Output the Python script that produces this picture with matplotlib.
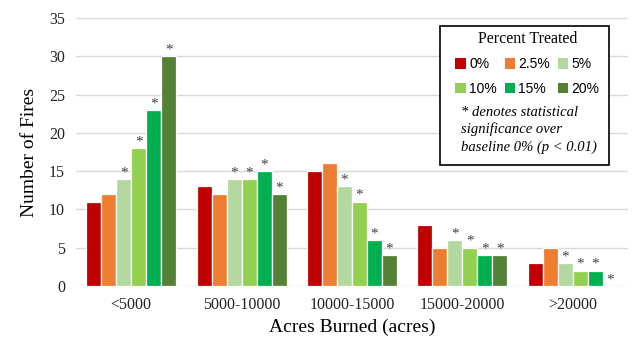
"""Number of fires by acres burned, grouped by percent of landscape treated."""

import matplotlib

matplotlib.use("Agg")
import matplotlib.pyplot as plt
import numpy as np
from matplotlib.patches import Patch, Rectangle

categories = ["<5000", "5000-10000", "10000-15000", "15000-20000", ">20000"]
treatments = ["0%", "2.5%", "5%", "10%", "15%", "20%"]
colors = ["#C00000", "#ED7D31", "#B4D9A0", "#92D050", "#00B050", "#548235"]

# fires per treatment level, one list per acres-burned class
fires = {
    "0%": [11, 13, 15, 8, 3],
    "2.5%": [12, 12, 16, 5, 5],
    "5%": [14, 14, 13, 6, 3],
    "10%": [18, 14, 11, 5, 2],
    "15%": [23, 15, 6, 4, 2],
    "20%": [30, 12, 4, 4, 0],
}
# significant vs. 0% baseline (p < 0.01)
significant = {
    "0%": [False] * 5,
    "2.5%": [False] * 5,
    "5%": [True] * 5,
    "10%": [True] * 5,
    "15%": [True] * 5,
    "20%": [True] * 5,
}

SERIF = "Liberation Serif"
SANS = "Liberation Sans"

fig = plt.figure(figsize=(6.36, 3.39), dpi=100)
ax = fig.add_axes([76 / 636, 1 - 286 / 339, 552 / 636, 268 / 339])

x = np.arange(len(categories))
width = 0.136
for i, t in enumerate(treatments):
    pos = x + (i - 2.5) * width
    ax.bar(pos, fires[t], width, color=colors[i], edgecolor="white", linewidth=0.9, zorder=2)
    for px, v, sig in zip(pos, fires[t], significant[t]):
        if sig:
            ax.annotate("*", (px, v), xytext=(0, 4.5), textcoords="offset points",
                        ha="center", va="center", fontsize=11, color="#404040",
                        family=SERIF)

ax.set_xlim(-0.5, len(categories) - 0.5)
ax.set_ylim(0, 35)
ax.set_yticks(range(0, 36, 5))
ax.set_xticks(x)
ax.set_xticklabels(categories)
ax.grid(axis="y", color="#D9D9D9", lw=1, zorder=0)
ax.set_axisbelow(True)
for s in ax.spines.values():
    s.set_visible(False)
ax.tick_params(length=0, labelsize=11.5, pad=8)
for lab in ax.get_xticklabels() + ax.get_yticklabels():
    lab.set_family(SERIF)
    lab.set_color("#222222")
ax.set_xlabel("Acres Burned (acres)", family=SERIF, fontsize=14, labelpad=4)
ax.set_ylabel("Number of Fires", family=SERIF, fontsize=14, labelpad=8)

# legend box with title, swatches and note
ax.add_patch(Rectangle((0.659, 0.451), 0.307, 0.519, transform=ax.transAxes,
                       facecolor="white", edgecolor="black", lw=1.2,
                       zorder=4, clip_on=False))
# matplotlib fills legend columns first; reorder so rows read 0/2.5/5, 10/15/20
order = [0, 3, 1, 4, 2, 5]
handles = [Patch(facecolor=colors[k], edgecolor="none") for k in order]
labels = [treatments[k] for k in order]
leg = ax.legend(handles, labels, ncol=3, loc="upper left",
                bbox_to_anchor=(0.672, 0.983), frameon=False,
                title="Percent Treated", prop={"family": SANS, "size": 10},
                handlelength=0.75, handleheight=0.75, handletextpad=0.25,
                columnspacing=0.55, labelspacing=0.75, borderpad=0.1)
leg.get_title().set_family(SERIF)
leg.get_title().set_fontsize(11.5)
leg.set_zorder(5)
ax.text(0.697, 0.583, "* denotes statistical\nsignificance over\nbaseline 0% (p < 0.01)",
        transform=ax.transAxes, family=SERIF, style="italic", fontsize=10.5,
        linespacing=1.35, va="center", ha="left", zorder=6)

fig.savefig("out.png", dpi=100)
